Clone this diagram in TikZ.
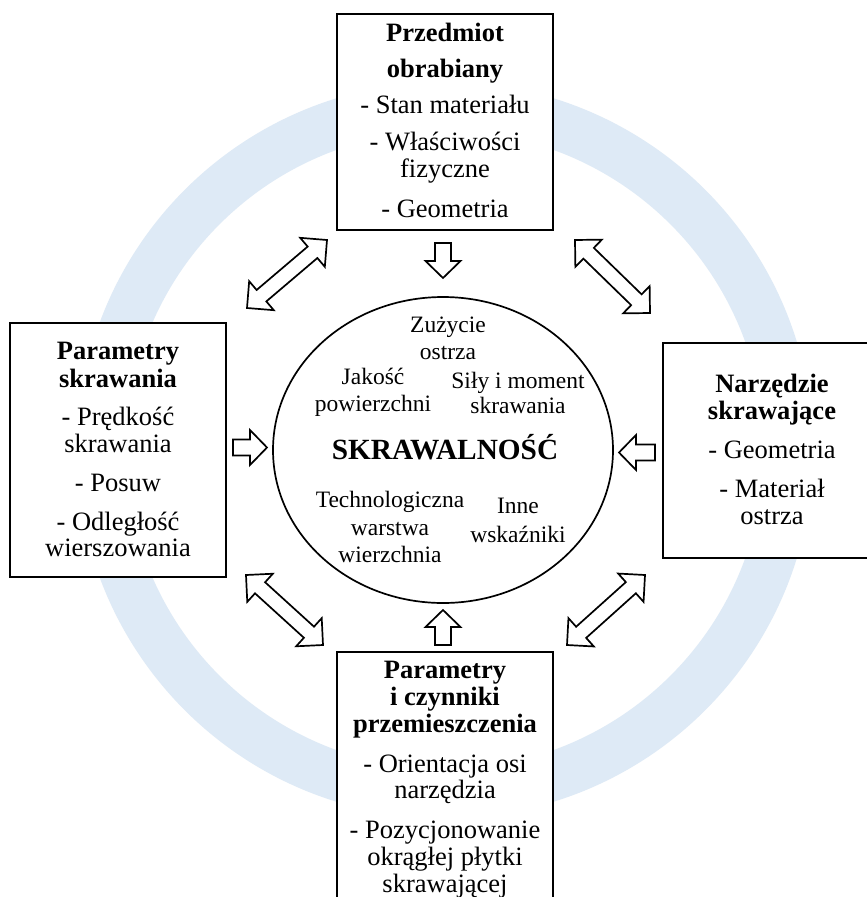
\documentclass[tikz,border=0pt]{standalone}
\usepackage{fontspec}
\setmainfont{Liberation Serif}
\usetikzlibrary{calc,shapes.geometric}
\definecolor{ringblue}{RGB}{222,234,246}

% single block arrow: #1 tail, #2 tip
\newcommand\singlearrow[2]{%
  \coordinate (#1-h) at ($(#2)!17pt!(#1)$);
  \draw[barrow] ($(#1)!8pt!90:(#2)$) -- ($(#1-h)!8pt!90:(#2)$) -- ($(#1-h)!17.5pt!90:(#2)$)
    -- (#2) -- ($(#1-h)!17.5pt!-90:(#2)$) -- ($(#1-h)!8pt!-90:(#2)$) -- ($(#1)!8pt!-90:(#2)$) -- cycle;
}
% double block arrow between #1 and #2
\newcommand\doublearrow[2]{%
  \coordinate (#1-h) at ($(#1)!19pt!(#2)$);
  \coordinate (#2-h) at ($(#2)!19pt!(#1)$);
  \draw[barrow] (#1) -- ($(#1-h)!19pt!90:(#2)$) -- ($(#1-h)!7.5pt!90:(#2)$) -- ($(#2-h)!7.5pt!-90:(#1)$)
    -- ($(#2-h)!19pt!-90:(#1)$) -- (#2) -- ($(#2-h)!19pt!90:(#1)$) -- ($(#2-h)!7.5pt!90:(#1)$)
    -- ($(#1-h)!7.5pt!-90:(#2)$) -- ($(#1-h)!19pt!-90:(#2)$) -- cycle;
}

\tikzset{
  boxtext/.style={inner sep=0pt, anchor=base, font=\fontsize{26.5pt}{27pt}\selectfont},
  boxtitle/.style={inner sep=0pt, anchor=base, font=\fontsize{26.5pt}{27pt}\selectfont\bfseries},
  ctext/.style={inner sep=0pt, anchor=base, font=\fontsize{23.5pt}{25pt}\selectfont},
  cbig/.style={inner sep=0pt, anchor=base, font=\fontsize{29.3pt}{30pt}\selectfont\bfseries},
  panel/.style={draw=black, line width=2pt, fill=white, inner sep=0pt, rectangle},
  barrow/.style={draw=black, line width=1.7pt, fill=white, line join=miter},
  core/.style={draw=black, line width=1.7pt, fill=white, ellipse, inner sep=0pt},
}

\begin{document}
\begin{tikzpicture}[x=1pt,y=-1pt]
\useasboundingbox (0,0) rectangle (867,897);
\clip (0,0) rectangle (867,897);
\fill[white] (0,0) rectangle (867,897);

% ring
\fill[ringblue, even odd rule] (445,450) circle[radius=368pt] (445,450) circle[radius=319pt];

% boxes
\node[panel, minimum width=216pt, minimum height=216pt] (top) at (445,122) {};
\node[panel, minimum width=216pt, minimum height=254pt] (left) at (118,450) {};
\node[panel, minimum width=216pt, minimum height=215pt] (right) at (771,450.5) {};
\node[panel, minimum width=216pt, minimum height=276pt] (bottom) at (445,790) {};

% central ellipse
\node[core, minimum width=340pt, minimum height=306pt] (center) at (443,450) {};

% arrows
\coordinate (dA) at (443,243); \coordinate (dB) at (443,278);
\coordinate (uA) at (443,645); \coordinate (uB) at (443,610);
\coordinate (rA) at (233,447.5); \coordinate (rB) at (267,447.5);
\coordinate (lA) at (655,452.5); \coordinate (lB) at (619,452.5);
\singlearrow{dA}{dB}
\singlearrow{uA}{uB}
\singlearrow{rA}{rB}
\singlearrow{lA}{lB}

\coordinate (tl1) at (247,308); \coordinate (tl2) at (327,240);
\coordinate (tr1) at (575,240); \coordinate (tr2) at (650,313);
\coordinate (bl1) at (246,575); \coordinate (bl2) at (323,645);
\coordinate (br1) at (567,645); \coordinate (br2) at (645,575);
\doublearrow{tl1}{tl2}
\doublearrow{tr1}{tr2}
\doublearrow{bl1}{bl2}
\doublearrow{br1}{br2}

% top box text
\node[boxtitle] (t1) at (445,41) {Przedmiot};
\node[boxtitle] (t2) at (445,77) {obrabiany};
\node[boxtext] (t3) at (445,113) {- Stan materiału};
\node[boxtext] (t4) at (445,150) {- Właściwości};
\node[boxtext] (t5) at (445,177) {fizyczne};
\node[boxtext] (t6) at (445,217) {- Geometria};

% left box text
\node[boxtitle] (l1) at (118,359) {Parametry};
\node[boxtitle] (l2) at (118,387) {skrawania};
\node[boxtext] (l3) at (118,425) {- Prędkość};
\node[boxtext] (l4) at (118,452) {skrawania};
\node[boxtext] (l5) at (118,491) {- Posuw};
\node[boxtext] (l6) at (118,530) {- Odległość};
\node[boxtext] (l7) at (118,556) {wierszowania};

% right box text
\node[boxtitle] (r1) at (772,392) {Narzędzie};
\node[boxtitle] (r2) at (772,419) {skrawające};
\node[boxtext] (r3) at (772,458) {- Geometria};
\node[boxtext] (r4) at (772,497) {- Materiał};
\node[boxtext] (r5) at (772,524) {ostrza};

% bottom box text
\node[boxtitle] (b1) at (445,678) {Parametry};
\node[boxtitle] (b2) at (445,705) {i czynniki};
\node[boxtitle] (b3) at (445,732) {przemieszczenia};
\node[boxtext] (b4) at (445,772) {- Orientacja osi};
\node[boxtext] (b5) at (445,798) {narzędzia};
\node[boxtext] (b6) at (445,838) {- Pozycjonowanie};
\node[boxtext] (b7) at (445,865) {okrągłej płytki};
\node[boxtext] (b8) at (445,892) {skrawającej};

% ellipse text
\node[ctext] (c1) at (448,332) {Zużycie};
\node[ctext] (c2) at (448,359) {ostrza};
\node[ctext] (c3) at (373,384) {Jakość};
\node[ctext] (c4) at (373,411) {powierzchni};
\node[ctext] (c5) at (518,388) {Siły i moment};
\node[ctext] (c6) at (518,413) {skrawania};
\node[cbig] (c7) at (445,459) {SKRAWALNOŚĆ};
\node[ctext] (c8) at (390,507) {Technologiczna};
\node[ctext] (c9) at (390,535) {warstwa};
\node[ctext] (c10) at (390,562) {wierzchnia};
\node[ctext] (c11) at (518,513) {Inne};
\node[ctext] (c12) at (518,542) {wskaźniki};
\end{tikzpicture}
\end{document}
